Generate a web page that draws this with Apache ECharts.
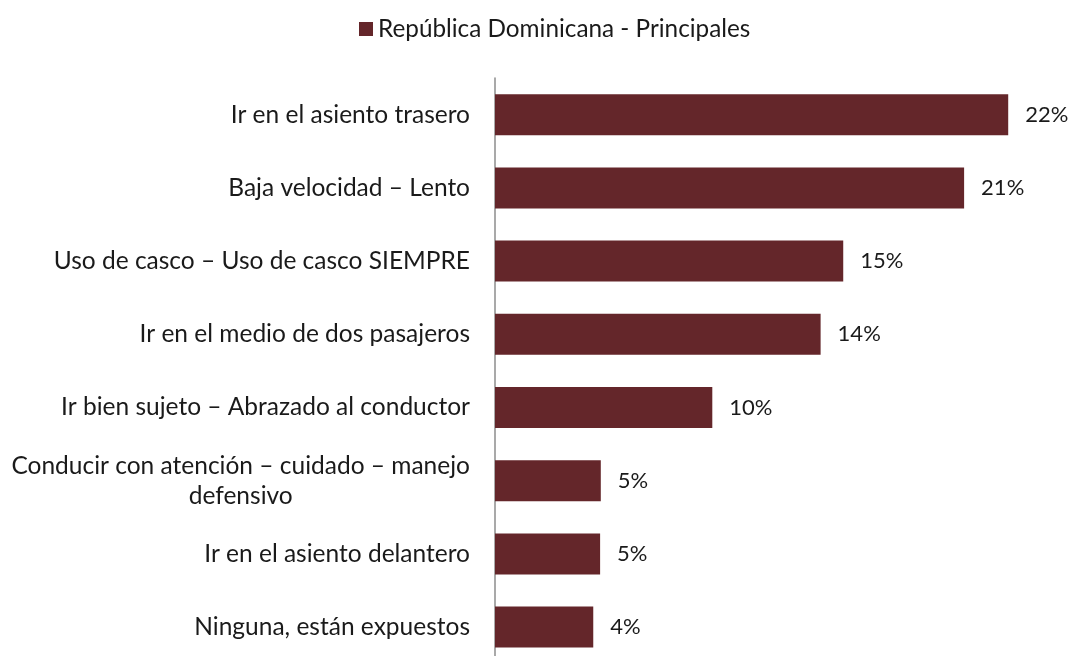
<!DOCTYPE html>
<html>
<head>
<meta charset="utf-8">
<script src="https://cdn.jsdelivr.net/npm/echarts@6/dist/echarts.min.js"></script>
<style>
html,body{margin:0;padding:0;background:#fff;}
#chart{width:1072px;height:656px;}
</style>
</head>
<body>
<div id="chart"></div>
<script>
const seriesName = 'República Dominicana - Principales';
const categories = [
  'Ir en el asiento trasero',
  'Baja velocidad – Lento',
  'Uso de casco – Uso de casco SIEMPRE',
  'Ir en el medio de dos pasajeros',
  'Ir bien sujeto – Abrazado al conductor',
  'Conducir con atención – cuidado – manejo\ndefensivo',
  'Ir en el asiento delantero',
  'Ninguna, están expuestos'
];
const values = [22.46, 20.53, 15.24, 14.25, 9.51, 4.63, 4.60, 4.30];

const FONT = 'Lato';
const chart = echarts.init(document.getElementById('chart'));
chart.setOption({
  animation: false,
  backgroundColor: '#ffffff',
  textStyle: { fontFamily: FONT },
  legend: {
    data: [seriesName],
    left: 354,
    top: 12,
    itemWidth: 14,
    itemHeight: 14,
    icon: 'rect',
    textStyle: { fontFamily: FONT, fontSize: 24.3, color: '#1a1a1a' }
  },
  grid: { left: 495, top: 78.1, width: 571.25, height: 585.6, outerBoundsMode: 'none', containLabel: false },
  xAxis: {
    type: 'value', min: 0, max: 25, show: false
  },
  yAxis: {
    type: 'category',
    data: categories,
    inverse: true,
    axisLine: { show: true, lineStyle: { color: '#8c8c8c', width: 1.5 } },
    axisTick: { show: false },
    axisLabel: {
      margin: 25,
      fontFamily: FONT,
      fontSize: 24.5,
      color: '#1a1a1a',
      formatter: function (v) {
        return v.split('\n').map(function (l) { return '{c|' + l + '}'; }).join('\n');
      },
      rich: { c: { align: 'center', fontFamily: FONT, fontSize: 24.5, color: '#1a1a1a', lineHeight: 30 } }
    }
  },
  series: [{
    name: seriesName,
    type: 'bar',
    data: values,
    barWidth: '56%',
    itemStyle: { color: '#64262a' },
    label: {
      show: true,
      position: 'right',
      distance: 17,
      fontFamily: FONT,
      fontSize: 22,
      color: '#1a1a1a',
      formatter: function (p) { return Math.round(p.value) + '%'; }
    }
  }]
});
</script>
</body>
</html>
